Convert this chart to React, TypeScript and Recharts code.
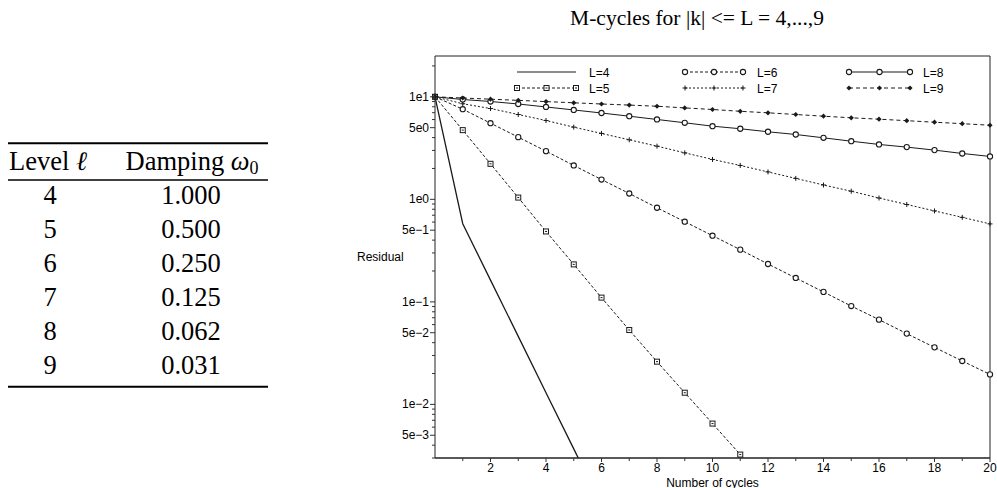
import { LineChart, Line, XAxis, YAxis, Legend, ReferenceLine } from "recharts"

const cycles = [0, 1, 2, 3, 4, 5, 6, 7, 8, 9, 10, 11, 12, 13, 14, 15, 16, 17, 18, 19, 20]

// residuals (log scale)
const l4 = [10, 0.578, 0.163, 0.0461, 0.013, 0.00368, 0.00104]
const l5 = [10, 4.73, 2.22, 1.04, 0.486, 0.232, 0.11, 0.0531, 0.0261, 0.013, 0.0065, 0.00324]
const l6 = [10, 7.57, 5.53, 4.04, 2.95, 2.14, 1.56, 1.14, 0.828, 0.605, 0.442, 0.323, 0.234, 0.171, 0.125, 0.091, 0.0671, 0.049, 0.036, 0.0265, 0.0196]
const l7 = [10, 8.55, 7.69, 6.72, 5.87, 5.06, 4.39, 3.81, 3.3, 2.84, 2.45, 2.14, 1.85, 1.6, 1.38, 1.2, 1.03, 0.891, 0.771, 0.667, 0.576]
const l8 = [10, 9.41, 9.0, 8.51, 7.96, 7.44, 6.95, 6.47, 6.01, 5.58, 5.17, 4.88, 4.56, 4.29, 3.98, 3.69, 3.43, 3.23, 3.02, 2.8, 2.62]
const l9 = [10, 9.73, 9.48, 9.23, 8.98, 8.74, 8.51, 8.3, 8.09, 7.79, 7.52, 7.22, 6.98, 6.72, 6.47, 6.24, 6.05, 5.85, 5.65, 5.47, 5.28]

const levels = ["4", "5", "6", "7", "8", "9"]
const damping = ["1.000", "0.500", "0.250", "0.125", "0.062", "0.031"]

const xTicks = [1, 2, 3, 4, 5, 6, 7, 8, 9, 10, 11, 12, 13, 14, 15, 16, 17, 18, 19, 20]
const yMajor = [5e-3, 1e-2, 5e-2, 1e-1, 5e-1, 1, 5, 10]
const yMajorLabels = ["5e\u22123", "1e\u22122", "5e\u22122", "1e\u22121", "5e\u22121", "1e0", "5e0", "1e1"]
const yMinor = [
  3e-3, 4e-3, 6e-3, 7e-3, 8e-3, 9e-3,
  2e-2, 3e-2, 4e-2, 6e-2, 7e-2, 8e-2, 9e-2,
  0.2, 0.3, 0.4, 0.6, 0.7, 0.8, 0.9,
  2, 3, 4, 6, 7, 8, 9, 20,
]

const data = cycles.map((c, i) => ({
  cycle: c,
  L4: l4[i],
  L5: l5[i],
  L6: l6[i],
  L7: l7[i],
  L8: l8[i],
  L9: l9[i],
}))

const INK = "#1a1a1a"
const SANS = '"Liberation Sans", Arial, Helvetica, sans-serif'
const SERIF = '"Liberation Serif", "Times New Roman", serif'

type Kind = "none" | "square" | "circle" | "plus" | "dot"

const series: { key: string; name: string; dash?: string; marker: Kind }[] = [
  { key: "L4", name: "L=4", marker: "none" },
  { key: "L5", name: "L=5", dash: "3 2", marker: "square" },
  { key: "L6", name: "L=6", dash: "3 2", marker: "circle" },
  { key: "L7", name: "L=7", dash: "2 2", marker: "plus" },
  { key: "L8", name: "L=8", marker: "circle" },
  { key: "L9", name: "L=9", dash: "4 3", marker: "dot" },
]

function Marker({ kind, cx, cy }: { kind: Kind; cx: number; cy: number }) {
  if (kind === "square")
    return (
      <g>
        <rect x={cx - 2.5} y={cy - 2.5} width={5} height={5} fill="#fff" stroke={INK} strokeWidth={1} />
        <line x1={cx - 1} x2={cx + 1} y1={cy} y2={cy} stroke={INK} strokeWidth={1} />
      </g>
    )
  if (kind === "circle") return <circle cx={cx} cy={cy} r={2.6} fill="#fff" stroke={INK} strokeWidth={1.1} />
  if (kind === "plus")
    return (
      <path
        d={`M${cx - 2.5},${cy}H${cx + 2.5}M${cx},${cy - 2.5}V${cy + 2.5}`}
        stroke={INK}
        strokeWidth={1}
      />
    )
  if (kind === "dot")
    return <path d={`M${cx},${cy - 2.6}L${cx + 2.6},${cy}L${cx},${cy + 2.6}L${cx - 2.6},${cy}Z`} fill={INK} />
  return null
}

function findMajor(v: number) {
  return yMajor.findIndex((m) => Math.abs(m - v) / m < 1e-6)
}

function YTick(props: any) {
  const { x, y, payload } = props
  const idx = findMajor(payload.value)
  return (
    <g>
      <line x1={x} x2={x - (idx >= 0 ? 5 : 3)} y1={y} y2={y} stroke="#333" strokeWidth={1} />
      {idx >= 0 && (
        <text x={x - 6} y={y + 4} textAnchor="end" fontSize={12} fontFamily={SANS} fill="#000">
          {yMajorLabels[idx]}
        </text>
      )}
    </g>
  )
}

function XTick(props: any) {
  const { x, y, payload } = props
  const major = payload.value % 2 === 0
  return (
    <g>
      <line x1={x} x2={x} y1={y} y2={y + (major ? 4 : 3)} stroke="#333" strokeWidth={1} />
      {major && (
        <text x={x} y={y + 14} textAnchor="middle" fontSize={12} fontFamily={SANS} fill="#000">
          {payload.value}
        </text>
      )}
    </g>
  )
}

const legendCols = [
  { x1: 517, x2: 576, tx: 589 },
  { x1: 685, x2: 743, tx: 757 },
  { x1: 849, x2: 910, tx: 923 },
]
const legendRows = [72, 88]

function renderLegend() {
  return (
    <svg width={997} height={110} style={{ display: "block" }}>
      {series.map((s, i) => {
        const col = legendCols[Math.floor(i / 2)]
        const y = legendRows[i % 2]
        const mid = (col.x1 + col.x2) / 2
        return (
          <g key={s.key}>
            <line x1={col.x1} x2={col.x2} y1={y} y2={y} stroke={INK} strokeWidth={1} strokeDasharray={s.dash} />
            {s.marker !== "none" &&
              [col.x1, mid, col.x2].map((mx) => <Marker key={mx} kind={s.marker} cx={mx} cy={y} />)}
            <text x={col.tx} y={y + 4.5} fontSize={12} fontFamily={SANS} fill="#000">
              {s.name}
            </text>
          </g>
        )
      })}
    </svg>
  )
}

function Table() {
  const c1 = 48
  const c2 = 192
  return (
    <g fontFamily={SERIF} fontSize={26.5} fill="#000">
      <line x1={8} x2={268} y1={143.3} y2={143.3} stroke="#000" strokeWidth={2} />
      <text x={c1} y={170} textAnchor="middle">
        Level <tspan fontStyle="italic">{"\u2113"}</tspan>
      </text>
      <text x={c2} y={170} textAnchor="middle">
        Damping <tspan fontStyle="italic">{"\u03c9"}</tspan>
        <tspan fontSize={18} dy={4}>0</tspan>
      </text>
      <line x1={8} x2={268} y1={180} y2={180} stroke="#000" strokeWidth={1.4} />
      {levels.map((lv, i) => (
        <g key={lv}>
          <text x={c1 + 2} y={204 + i * 34} textAnchor="middle">{lv}</text>
          <text x={c2 - 1} y={204 + i * 34} textAnchor="middle">{damping[i]}</text>
        </g>
      ))}
      <line x1={8} x2={268} y1={386.7} y2={386.7} stroke="#000" strokeWidth={2} />
    </g>
  )
}

export default function App() {
  return (
    <div style={{ position: "absolute", left: 0, top: 0, width: 997, height: 488, background: "#fff" }}>
      <div style={{ position: "absolute", left: 0, top: 0 }}>
        <LineChart width={997} height={488} data={data} margin={{ top: 56, right: 7, bottom: 0, left: 340 }}>
          <XAxis
            dataKey="cycle"
            type="number"
            domain={[0, 20]}
            ticks={xTicks}
            interval={0}
            height={30}
            tickSize={0}
            tickMargin={0}
            tick={<XTick />}
            stroke="#222"
            strokeWidth={1.4}
            label={{ value: "Number of cycles", position: "insideBottom", offset: 1.5, fontSize: 12, fontFamily: SANS, fill: "#000" }}
          />
          <YAxis
            scale="log"
            type="number"
            domain={[0.003, 25]}
            allowDataOverflow
            ticks={[...yMajor, ...yMinor].sort((a, b) => a - b)}
            interval={0}
            width={95}
            tickSize={0}
            tickMargin={0}
            tick={<YTick />}
            stroke="#222"
            label={{ value: "Residual", position: "insideLeft", offset: 17, fontSize: 12, fontFamily: SANS, fill: "#000" }}
          />
          <ReferenceLine y={25} stroke="#222" ifOverflow="visible" />
          <ReferenceLine x={20} stroke="#222" ifOverflow="visible" />
          <Legend
            layout="horizontal"
            verticalAlign="middle"
            align="center"
            content={renderLegend}
            wrapperStyle={{ position: "absolute", left: 0, top: 0, width: 997, height: 110, pointerEvents: "none" }}
          />
          {series.map((s) => (
            <Line
              key={s.key}
              dataKey={s.key}
              name={s.name}
              stroke={INK}
              strokeWidth={s.marker === "none" ? 1.3 : 1}
              strokeDasharray={s.dash}
              isAnimationActive={false}
              connectNulls={false}
              dot={
                s.marker === "none"
                  ? false
                  : (p: any) =>
                      p.cy == null || p.value == null ? (
                        <g key={`${s.key}-${p.index}`} />
                      ) : (
                        <Marker key={`${s.key}-${p.index}`} kind={s.marker} cx={p.cx} cy={p.cy} />
                      )
              }
              activeDot={false}
            />
          ))}
        </LineChart>
      </div>
      <svg width={997} height={488} style={{ position: "absolute", left: 0, top: 0, pointerEvents: "none" }}>
        <text x={697} y={25} textAnchor="middle" fontFamily={SERIF} fontSize={21.5} fill="#000">
          M-cycles for |k| {"<="} L = 4,...,9
        </text>
        <Table />
      </svg>
    </div>
  )
}
